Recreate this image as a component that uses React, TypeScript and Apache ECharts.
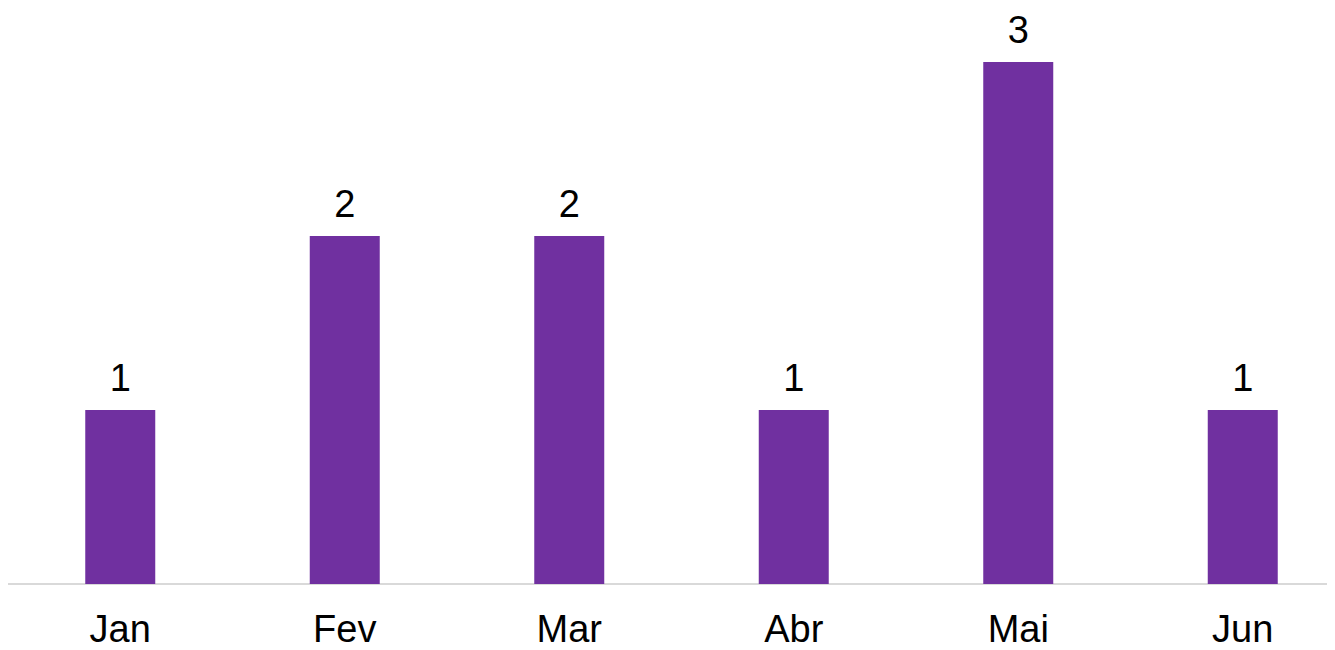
import React, { useEffect, useRef } from "react";
import * as echarts from "echarts";

const categories = ["Jan", "Fev", "Mar", "Abr", "Mai", "Jun"];
const values = [1, 2, 2, 1, 3, 1];

export default function App() {
  const ref = useRef<HTMLDivElement>(null);
  useEffect(() => {
    if (!ref.current) return;
    const chart = echarts.init(ref.current, null, { renderer: "svg" });
    chart.setOption({
      animation: false,
      grid: { left: 0, top: 54, right: 0, bottom: 66, containLabel: false },
      xAxis: {
        type: "category",
        data: categories,
        boundaryGap: true,
        axisLine: { show: true, lineStyle: { color: "#d9d9d9", width: 2 } },
        axisTick: { show: false },
        axisLabel: {
          color: "#000",
          fontSize: 38,
          lineHeight: 40,
          fontFamily: "Liberation Sans, Arial, sans-serif",
          margin: 25,
        },
      },
      yAxis: {
        type: "value",
        min: 0,
        max: 3,
        show: false,
        splitLine: { show: false },
      },
      series: [
        {
          type: "bar",
          data: values,
          barWidth: 70,
          itemStyle: { color: "#7030a0" },
          label: {
            show: true,
            position: "top",
            distance: 13,
            color: "#000",
            fontSize: 38,
            fontFamily: "Liberation Sans, Arial, sans-serif",
          },
        },
      ],
    });
    return () => chart.dispose();
  }, []);
  return (
    <div style={{ width: 1327, height: 642, overflow: "hidden" }}>
      <div ref={ref} style={{ width: 1347, height: 642 }} />
    </div>
  );
}
